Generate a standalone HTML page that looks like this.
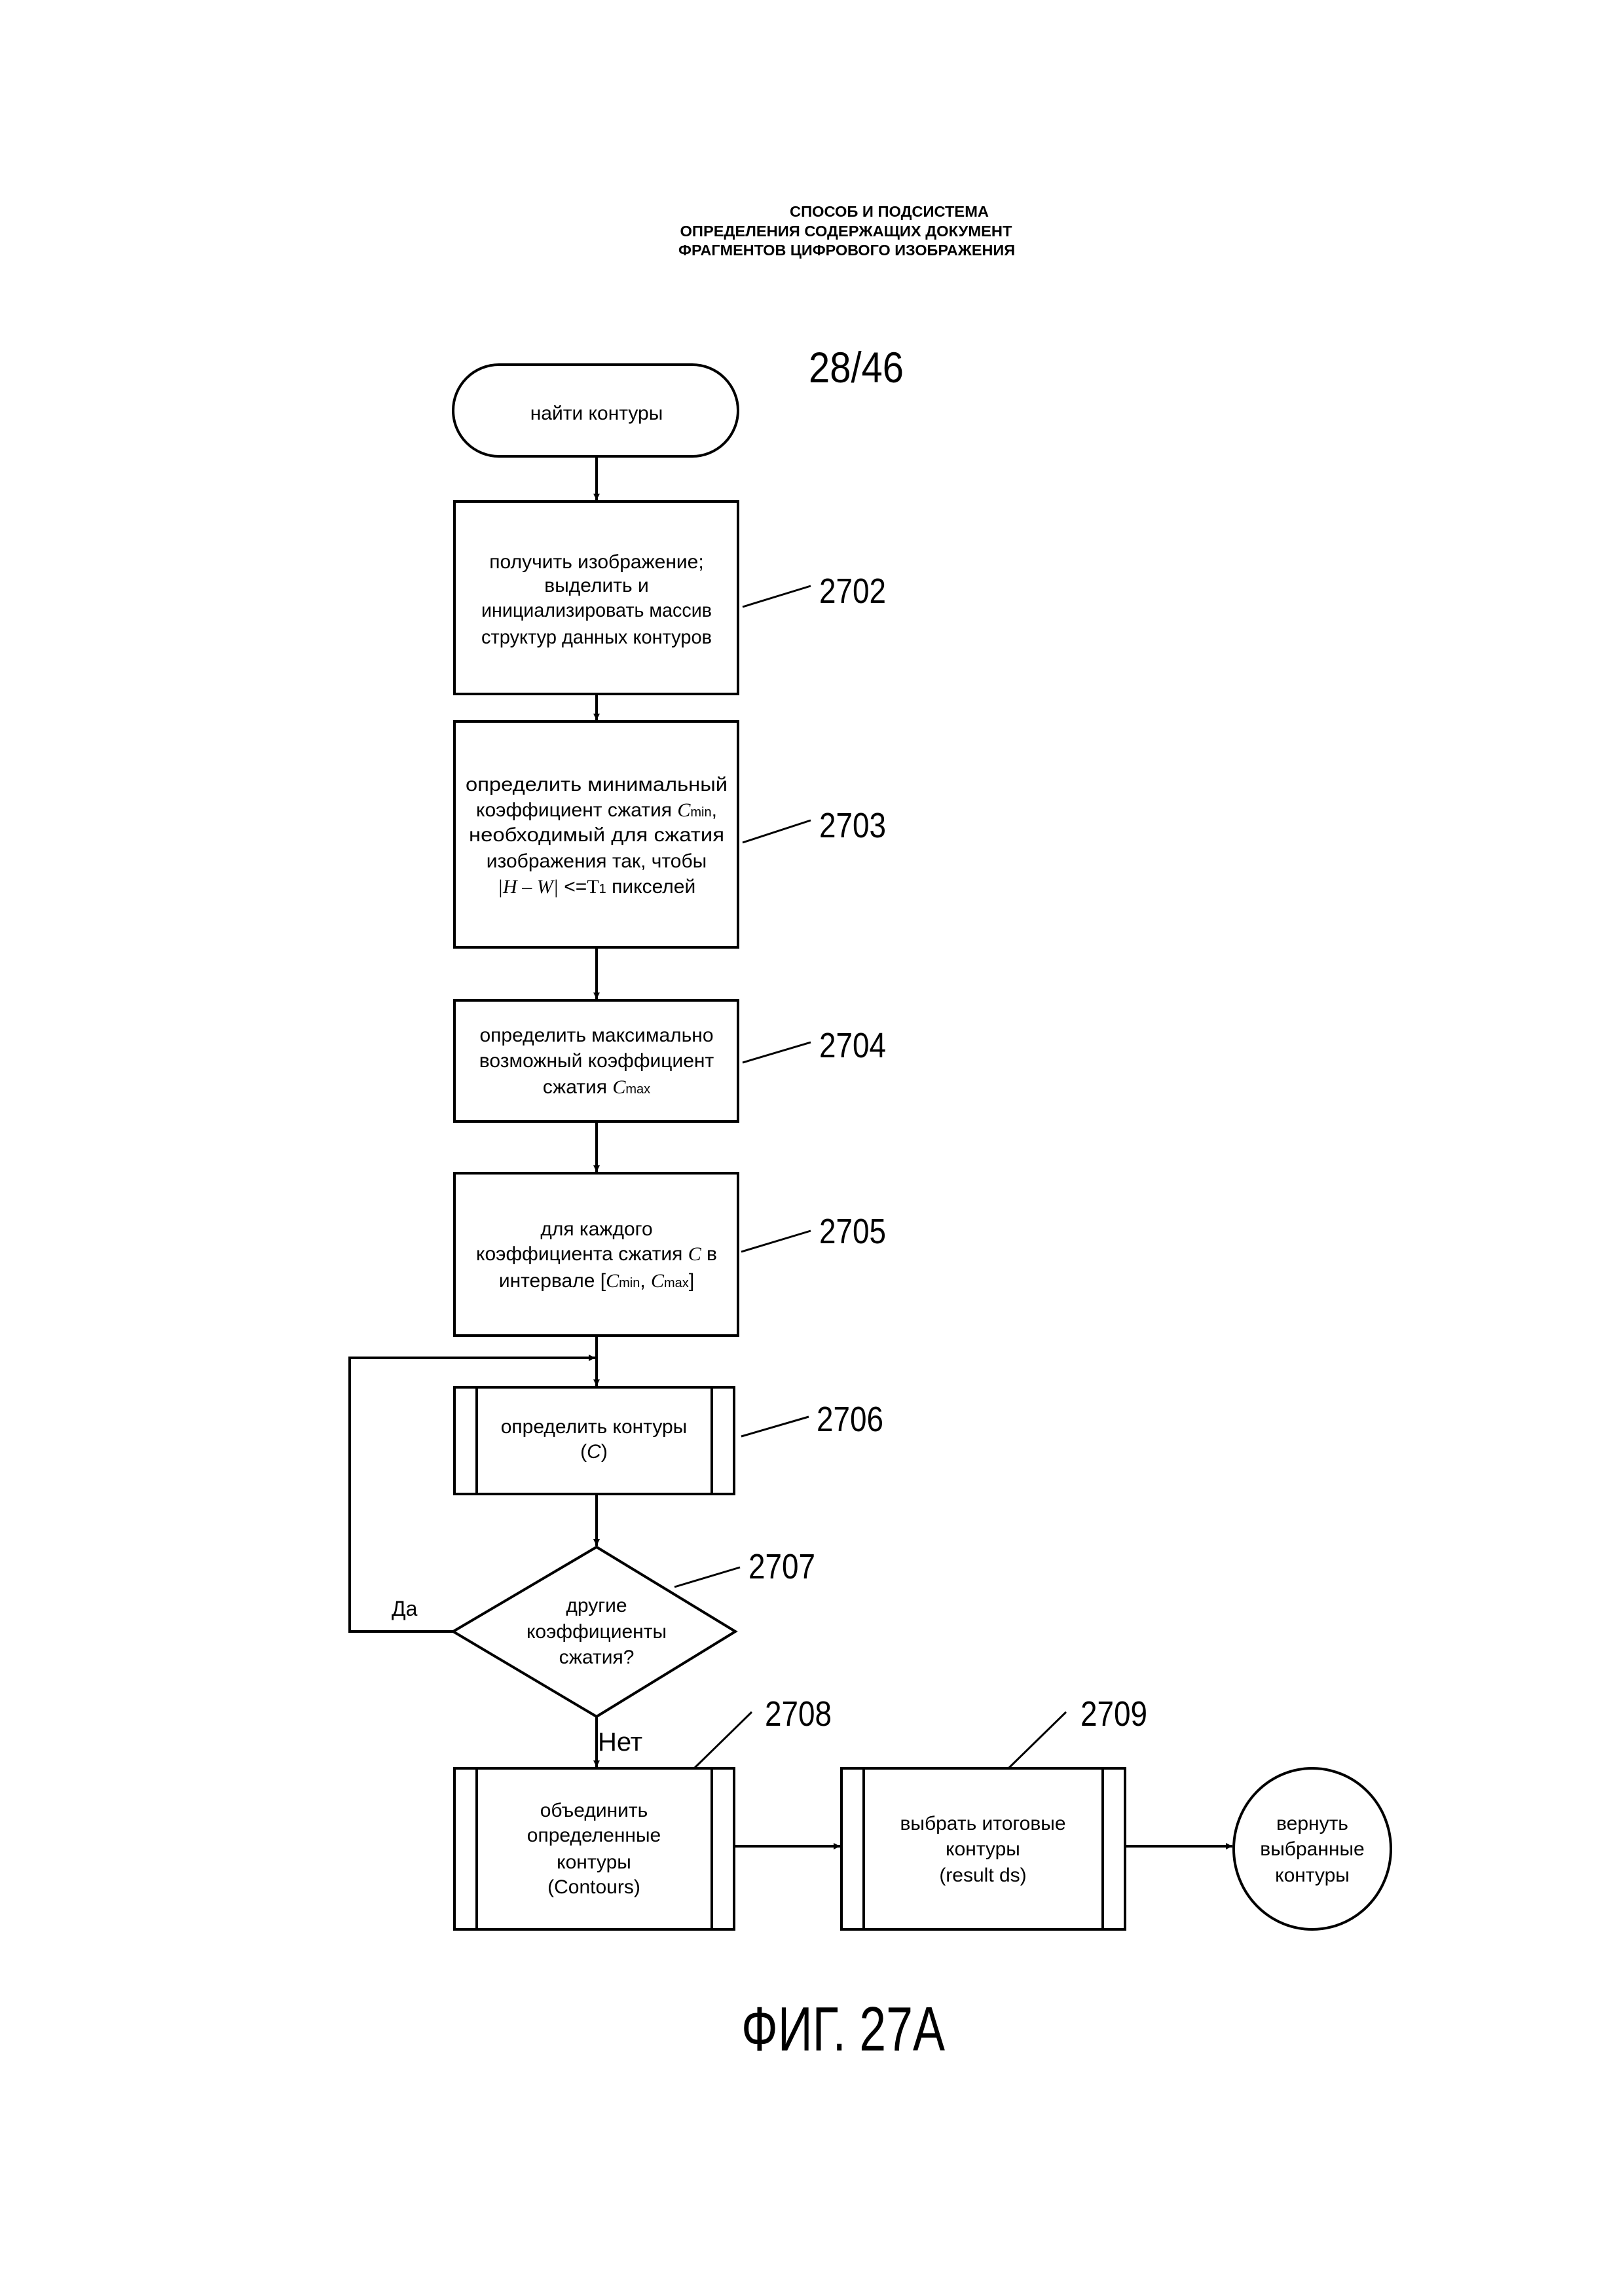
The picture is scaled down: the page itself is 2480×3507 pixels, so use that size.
<!DOCTYPE html>
<html><head><meta charset="utf-8"><style>
html,body{margin:0;padding:0;background:#fff}
svg{display:block}
text{font-family:"Liberation Sans",sans-serif;fill:#000}
</style></head><body>
<svg width="2480" height="3507" viewBox="0 0 2480 3507" xmlns="http://www.w3.org/2000/svg">
<defs>
<marker id="ah" markerWidth="10" markerHeight="10" refX="10" refY="5" orient="auto" markerUnits="userSpaceOnUse" viewBox="0 0 10 10">
<path d="M0,0 L10,5 L0,10 Z" fill="#000"/></marker>
</defs>
<g font-size="23" font-weight="bold" text-anchor="middle">
<text x="1358" y="331" textLength="304" lengthAdjust="spacingAndGlyphs">СПОСОБ И ПОДСИСТЕМА</text>
<text x="1292" y="361" textLength="507" lengthAdjust="spacingAndGlyphs">ОПРЕДЕЛЕНИЯ СОДЕРЖАЩИХ ДОКУМЕНТ</text>
<text x="1293" y="390" textLength="514" lengthAdjust="spacingAndGlyphs">ФРАГМЕНТОВ ЦИФРОВОГО ИЗОБРАЖЕНИЯ</text>
</g>
<text x="1235" y="584" font-size="66" textLength="145" lengthAdjust="spacingAndGlyphs">28/46</text>

<g fill="none" stroke="#000" stroke-width="4">
<rect x="692" y="557" width="435" height="140" rx="70"/>
<rect x="694" y="766" width="433" height="294"/>
<rect x="694" y="1102" width="433" height="345"/>
<rect x="694" y="1528" width="433" height="185"/>
<rect x="694" y="1792" width="433" height="248"/>
<rect x="694" y="2119" width="427" height="163"/>
<line x1="728" y1="2119" x2="728" y2="2282"/><line x1="1087" y1="2119" x2="1087" y2="2282"/>
<polygon points="911,2363 1123,2492 911,2622 692,2492"/>
<rect x="694" y="2701" width="427" height="246"/>
<line x1="728" y1="2701" x2="728" y2="2947"/><line x1="1087" y1="2701" x2="1087" y2="2947"/>
<rect x="1285" y="2701" width="433" height="246"/>
<line x1="1319" y1="2701" x2="1319" y2="2947"/><line x1="1684" y1="2701" x2="1684" y2="2947"/>
<ellipse cx="2004" cy="2824" rx="120" ry="123"/>
</g>
<g fill="none" stroke="#000" stroke-width="4" marker-end="url(#ah)">
<line x1="911" y1="697" x2="911" y2="764"/>
<line x1="911" y1="1060" x2="911" y2="1100"/>
<line x1="911" y1="1447" x2="911" y2="1526"/>
<line x1="911" y1="1713" x2="911" y2="1790"/>
<line x1="911" y1="2040" x2="911" y2="2117"/>
<polyline points="692,2492 534,2492 534,2074 909,2074"/>
<line x1="911" y1="2282" x2="911" y2="2361"/>
<line x1="911" y1="2622" x2="911" y2="2699"/>
<line x1="1121" y1="2820" x2="1283" y2="2820"/>
<line x1="1718" y1="2820" x2="1882" y2="2820"/>
</g>
<g stroke="#000" stroke-width="3">
<line x1="1134" y1="927" x2="1238" y2="895"/>
<line x1="1134" y1="1287" x2="1238" y2="1253"/>
<line x1="1134" y1="1623" x2="1238" y2="1592"/>
<line x1="1132" y1="1912" x2="1238" y2="1880"/>
<line x1="1132" y1="2194" x2="1235" y2="2164"/>
<line x1="1030" y1="2424" x2="1130" y2="2394"/>
<line x1="1060" y1="2701" x2="1148" y2="2615"/>
<line x1="1540" y1="2701" x2="1628" y2="2615"/>
</g>
<g font-size="54">
<text x="1251" y="921" textLength="102" lengthAdjust="spacingAndGlyphs">2702</text>
<text x="1251" y="1279" textLength="102" lengthAdjust="spacingAndGlyphs">2703</text>
<text x="1251" y="1615" textLength="102" lengthAdjust="spacingAndGlyphs">2704</text>
<text x="1251" y="1899" textLength="102" lengthAdjust="spacingAndGlyphs">2705</text>
<text x="1247" y="2186" textLength="102" lengthAdjust="spacingAndGlyphs">2706</text>
<text x="1143" y="2411" textLength="102" lengthAdjust="spacingAndGlyphs">2707</text>
<text x="1168" y="2636" textLength="102" lengthAdjust="spacingAndGlyphs">2708</text>
<text x="1650" y="2636" textLength="102" lengthAdjust="spacingAndGlyphs">2709</text>
</g>
<g font-size="30" text-anchor="middle">
<text x="911" y="641">найти контуры</text>
<text x="911" y="868">получить изображение;</text>
<text x="911" y="904">выделить и</text>
<text x="911" y="942" textLength="352" lengthAdjust="spacingAndGlyphs">инициализировать массив</text>
<text x="911" y="983" textLength="352" lengthAdjust="spacingAndGlyphs">структур данных контуров</text>
<text x="911" y="1208" textLength="400" lengthAdjust="spacingAndGlyphs">определить минимальный</text>
<text x="911" y="1247">коэффициент сжатия <tspan font-family="Liberation Serif" font-style="italic">C</tspan><tspan font-size="20">min</tspan>,</text>
<text x="911" y="1285" textLength="390" lengthAdjust="spacingAndGlyphs">необходимый для сжатия</text>
<text x="911" y="1325">изображения так, чтобы</text>
<text x="911" y="1364"><tspan font-family="Liberation Serif" font-style="italic">|H – W|</tspan> &lt;=<tspan font-family="Liberation Serif">T</tspan><tspan font-size="20">1</tspan> пикселей</text>
<text x="911" y="1591">определить максимально</text>
<text x="911" y="1630">возможный коэффициент</text>
<text x="911" y="1670">сжатия <tspan font-family="Liberation Serif" font-style="italic">C</tspan><tspan font-size="20">max</tspan></text>
<text x="911" y="1887">для каждого</text>
<text x="911" y="1925">коэффициента сжатия <tspan font-family="Liberation Serif" font-style="italic">C</tspan> в</text>
<text x="911" y="1966">интервале [<tspan font-family="Liberation Serif" font-style="italic">C</tspan><tspan font-size="20">min</tspan>, <tspan font-family="Liberation Serif" font-style="italic">C</tspan><tspan font-size="20">max</tspan>]</text>
<text x="907" y="2189">определить контуры</text>
<text x="907" y="2227">(<tspan font-style="italic">C</tspan>)</text>
<text x="911" y="2462">другие</text>
<text x="911" y="2502">коэффициенты</text>
<text x="911" y="2541">сжатия?</text>
<text x="907" y="2775">объединить</text>
<text x="907" y="2813">определенные</text>
<text x="907" y="2854">контуры</text>
<text x="907" y="2892">(Contours)</text>
<text x="1501" y="2795">выбрать итоговые</text>
<text x="1501" y="2834">контуры</text>
<text x="1501" y="2874">(result ds)</text>
<text x="2004" y="2795">вернуть</text>
<text x="2004" y="2834">выбранные</text>
<text x="2004" y="2874">контуры</text>
</g>
<text x="598" y="2468" font-size="32">Да</text>
<text x="913" y="2674" font-size="40">Нет</text>
<text x="1132" y="3132" font-size="96" textLength="311" lengthAdjust="spacingAndGlyphs">ФИГ. 27A</text>
</svg>
</body></html>
